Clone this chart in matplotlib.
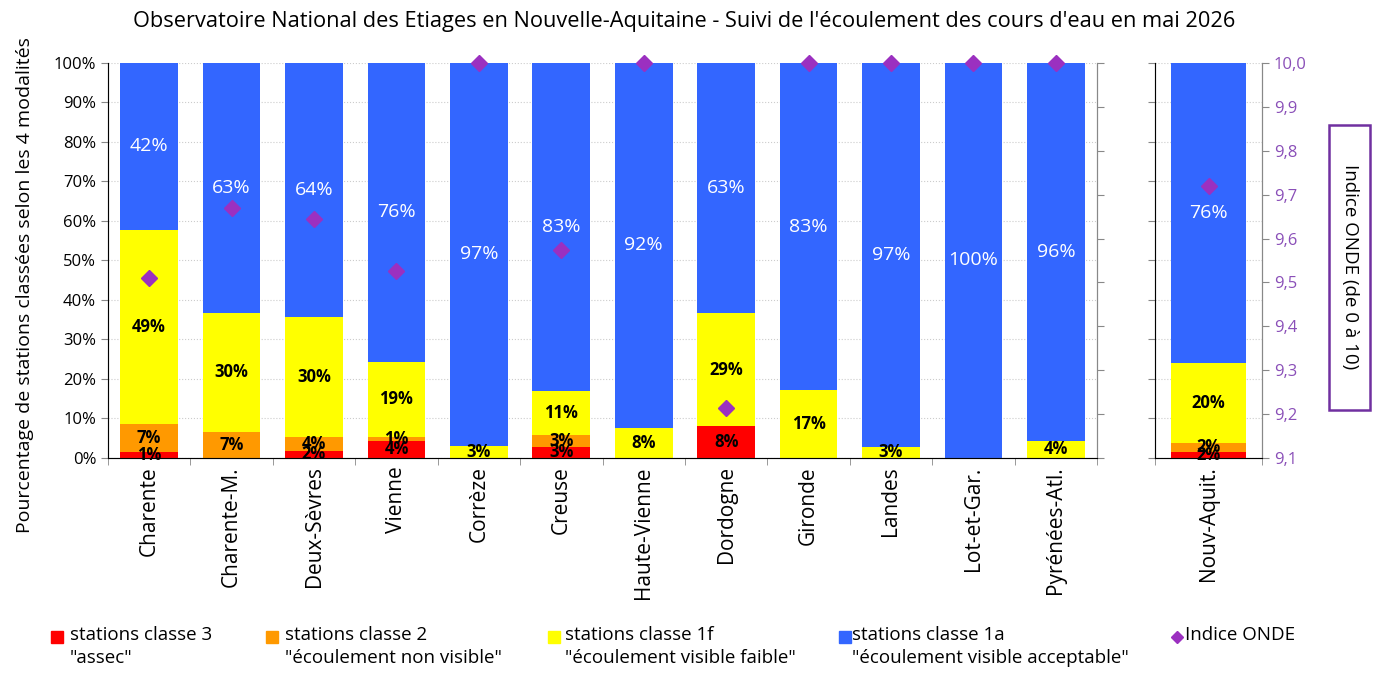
import numpy as np
import matplotlib.pyplot as plt
from matplotlib.lines import Line2D
from matplotlib.patches import Rectangle

plt.rcParams['font.family'] = ['Open Sans', 'DejaVu Sans']

# données (en %)
departements = ['Charente', 'Charente-M.', 'Deux-Sèvres', 'Vienne', 'Corrèze', 'Creuse',
                'Haute-Vienne', 'Dordogne', 'Gironde', 'Landes', 'Lot-et-Gar.', 'Pyrénées-Atl.']
classe3 = [1.4, 0, 1.8, 4.3, 0, 2.9, 0, 8.1, 0, 0, 0, 0]
classe2 = [7.1, 6.7, 3.6, 1.1, 0, 2.9, 0, 0, 0, 0, 0, 0]
classe1f = [49.3, 30.0, 30.3, 19.0, 3.1, 11.2, 7.7, 28.6, 17.1, 2.8, 0, 4.3]
classe1a = [42.2, 63.3, 64.3, 75.6, 96.9, 83.0, 92.3, 63.3, 82.9, 97.2, 100.0, 95.7]
indice_onde = [9.51, 9.67, 9.645, 9.525, 10.0, 9.575, 10.0, 9.215, 10.0, 10.0, 10.0, 10.0]

region = ['Nouv-Aquit.']
reg_classe3 = [1.6]
reg_classe2 = [2.2]
reg_classe1f = [20.3]
reg_classe1a = [75.9]
reg_indice = [9.72]

couleurs = ['#FF0000', '#FF9900', '#FFFF00', '#3366FF']
violet = '#9B30C0'
violet_txt = '#8A4FB8'

fig = plt.figure(figsize=(13.77, 6.75), dpi=100)
ax = fig.add_axes([0.0784, 0.3215, 0.7183, 0.5852])
ax2 = fig.add_axes([0.8388, 0.3215, 0.0777, 0.5852])


def trace_barres(a, noms, series, indice):
    x = np.arange(len(noms))
    bas = np.zeros(len(noms))
    for k, (vals, c) in enumerate(zip(series, couleurs)):
        vals = np.array(vals, dtype=float)
        a.bar(x, vals, 0.7, bottom=bas, color=c, zorder=2)
        for i, v in enumerate(vals):
            if v > 0:
                if k == 3:
                    a.text(x[i], bas[i] + v / 2, f'{round(v):.0f}%', ha='center', va='center',
                           fontsize=14, color='white', zorder=3)
                else:
                    a.text(x[i], bas[i] + v / 2, f'{round(v):.0f}%', ha='center', va='center',
                           fontsize=12, color='black', fontweight='bold', zorder=3)
        bas += vals
    a.set_xlim(-0.5, len(noms) - 0.5)
    a.set_ylim(0, 100)
    a.set_yticks(np.arange(0, 101, 10))
    a.set_xticks(x)
    a.set_xticklabels(noms, rotation=90, fontsize=15)
    a.tick_params(axis='x', length=0, pad=6)
    a.set_xticks(np.arange(-0.5, len(noms), 1), minor=True)
    a.tick_params(axis='x', which='minor', length=5, color='#888888')
    a.tick_params(axis='y', length=5, color='#888888')
    a.grid(axis='y', color='#cccccc', linestyle=':', linewidth=0.8, zorder=0)
    a.spines['top'].set_visible(False)
    for s in ['left', 'bottom', 'right']:
        a.spines[s].set_color('#888888')
    tw = a.twinx()
    tw.set_ylim(9.1, 10.0)
    tw.set_yticks(np.arange(9.1, 10.01, 0.1))
    tw.plot(x, indice, linestyle='none', marker='D', markersize=8, color=violet,
            clip_on=False, zorder=5)
    tw.spines['top'].set_visible(False)
    tw.spines['right'].set_color('#888888')
    tw.tick_params(axis='y', length=5, color='#888888')
    return tw


tw1 = trace_barres(ax, departements, [classe3, classe2, classe1f, classe1a], indice_onde)
ax.set_yticklabels([f'{v}%' for v in range(0, 101, 10)], fontsize=12)
tw1.set_yticklabels([])

tw2 = trace_barres(ax2, region, [reg_classe3, reg_classe2, reg_classe1f, reg_classe1a], reg_indice)
ax2.set_yticklabels([])
tw2.set_yticklabels([f'{v:.1f}'.replace('.', ',') for v in np.arange(9.1, 10.01, 0.1)],
                    fontsize=12, color=violet_txt)

fig.text(0.497, 1 - 22 / 675, "Observatoire National des Etiages en Nouvelle-Aquitaine - Suivi de l'écoulement des cours d'eau en mai 2026",
         ha='center', va='center', fontsize=15.7)
fig.text(25 / 1377, 1 - 285 / 675, 'Pourcentage de stations classées selon les 4 modalités',
         rotation=90, ha='center', va='center', fontsize=14)

# encadré de l'axe secondaire
fig.add_artist(Rectangle((1329 / 1377, 1 - 410 / 675), 41 / 1377, 285 / 675, transform=fig.transFigure,
                         facecolor='white', edgecolor='#7030A0', linewidth=1.8))
fig.text(1349.5 / 1377, 1 - 267 / 675, 'Indice ONDE (de 0 à 10)', rotation=-90,
         ha='center', va='center', fontsize=13.5)

# légende
legende = [
    ('s', couleurs[0], 57, 70, 'stations classe 3\n"assec"'),
    ('s', couleurs[1], 272, 285, 'stations classe 2\n"écoulement non visible"'),
    ('s', couleurs[2], 554, 565, 'stations classe 1f\n"écoulement visible faible"'),
    ('s', couleurs[3], 845, 852, 'stations classe 1a\n"écoulement visible acceptable"'),
    ('D', violet, 1177, 1185, 'Indice ONDE'),
]
for m, c, xm, xt, lab in legende:
    fig.add_artist(Line2D([xm / 1377], [1 - 637 / 675], marker=m, color=c, linestyle='none',
                          markersize=8 if m == 's' else 6, transform=fig.transFigure))
    fig.text(xt / 1377, 1 - 626 / 675, lab, ha='left', va='top', fontsize=13.5, linespacing=1.35)

fig.savefig('out.png', dpi=100)
